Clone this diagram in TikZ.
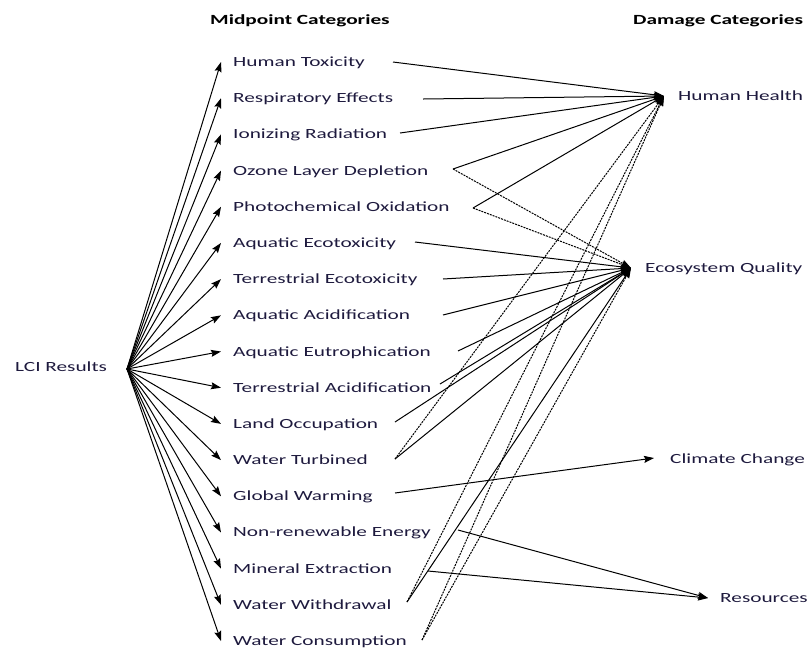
\documentclass[tikz,border=0pt]{standalone}
\usepackage{fontspec}
\setmainfont{Carlito}[FakeStretch=1.52]
\usetikzlibrary{arrows.meta}
\definecolor{labelink}{RGB}{30,26,62}
\begin{document}
\begin{tikzpicture}[x=1pt,y=-1pt,
  cat/.style={anchor=base west, inner sep=0pt, text=labelink, font=\fontsize{14}{16}\selectfont},
  head/.style={anchor=base west, inner sep=0pt, text=black, font=\fontsize{14}{16}\selectfont\bfseries},
  link/.style={line width=1pt, -{Stealth[length=10pt,width=7pt,inset=1.5pt]}},
  weak/.style={link, dash pattern=on 2pt off 1pt}]
\useasboundingbox (0,0) rectangle (811,649);

% column headers
\node[head] (hmid) at (210,24.5) {Midpoint Categories};
\node[head] (hdam) at (633,24.5) {Damage Categories};

% inventory results and the point where its arrows fan out
\node[cat] (lci) at (15,371.5) {LCI Results};
\coordinate (lciout) at (127,369);

% midpoint categories: name / text / out-x / out-y
\foreach \n/\t/\ox/\oy [count=\i from 0] in {
  ht/Human Toxicity/393/62,
  re/Respiratory Effects/423/99,
  ir/Ionizing Radiation/400/133,
  oz/Ozone Layer Depletion/453/169,
  po/Photochemical Oxidation/473/208,
  aet/Aquatic Ecotoxicity/415/242,
  tet/Terrestrial Ecotoxicity/443/279,
  aac/Aquatic Acidification/443/315,
  aeu/Aquatic Eutrophication/458/351,
  tac/Terrestrial Acidification/440/384,
  lo/Land Occupation/395/422,
  wt/Water Turbined/395/459,
  gw/Global Warming/395/493,
  nre/Non-renewable Energy/458/530,
  me/Mineral Extraction/428/571,
  ww/Water Withdrawal/407/602,
  wc/Water Consumption/422/640}{
  \pgfmathsetmacro{\yy}{62+\i*36.19}
  \node[cat] (\n) at (233,\yy+4.5) {\t};
  \coordinate (\n-in) at (221,\yy);
  \coordinate (\n-out) at (\ox,\oy);
  \draw[link] (lciout) -- (\n-in);
}

% damage categories and their arrow tips
\node[cat] (hh)  at (678,100.5) {Human Health};
\node[cat] (eq)  at (645,272.5) {Ecosystem Quality};
\node[cat] (cc)  at (670,463.5) {Climate Change};
\node[cat] (res) at (720,602) {Resources};
\coordinate (hh-in)  at (664,96);
\coordinate (eq-in)  at (631,268);
\coordinate (cc-in)  at (654,458);
\coordinate (res-in) at (708,598);

% links to Human Health
\foreach \n in {ht,re,ir,oz,po} \draw[link] (\n-out) -- (hh-in);
\foreach \n in {wt,ww,wc} \draw[weak] (\n-out) -- (hh-in);

% links to Ecosystem Quality
\foreach \n in {aet,tet,aac,aeu,tac,lo,wt,ww} \draw[link] (\n-out) -- (eq-in);
\foreach \n in {oz,po,wc} \draw[weak] (\n-out) -- (eq-in);

% links to Climate Change and Resources
\draw[link] (gw-out) -- (cc-in);
\draw[link] (nre-out) -- (res-in);
\draw[link] (me-out) -- (res-in);
\end{tikzpicture}
\end{document}
